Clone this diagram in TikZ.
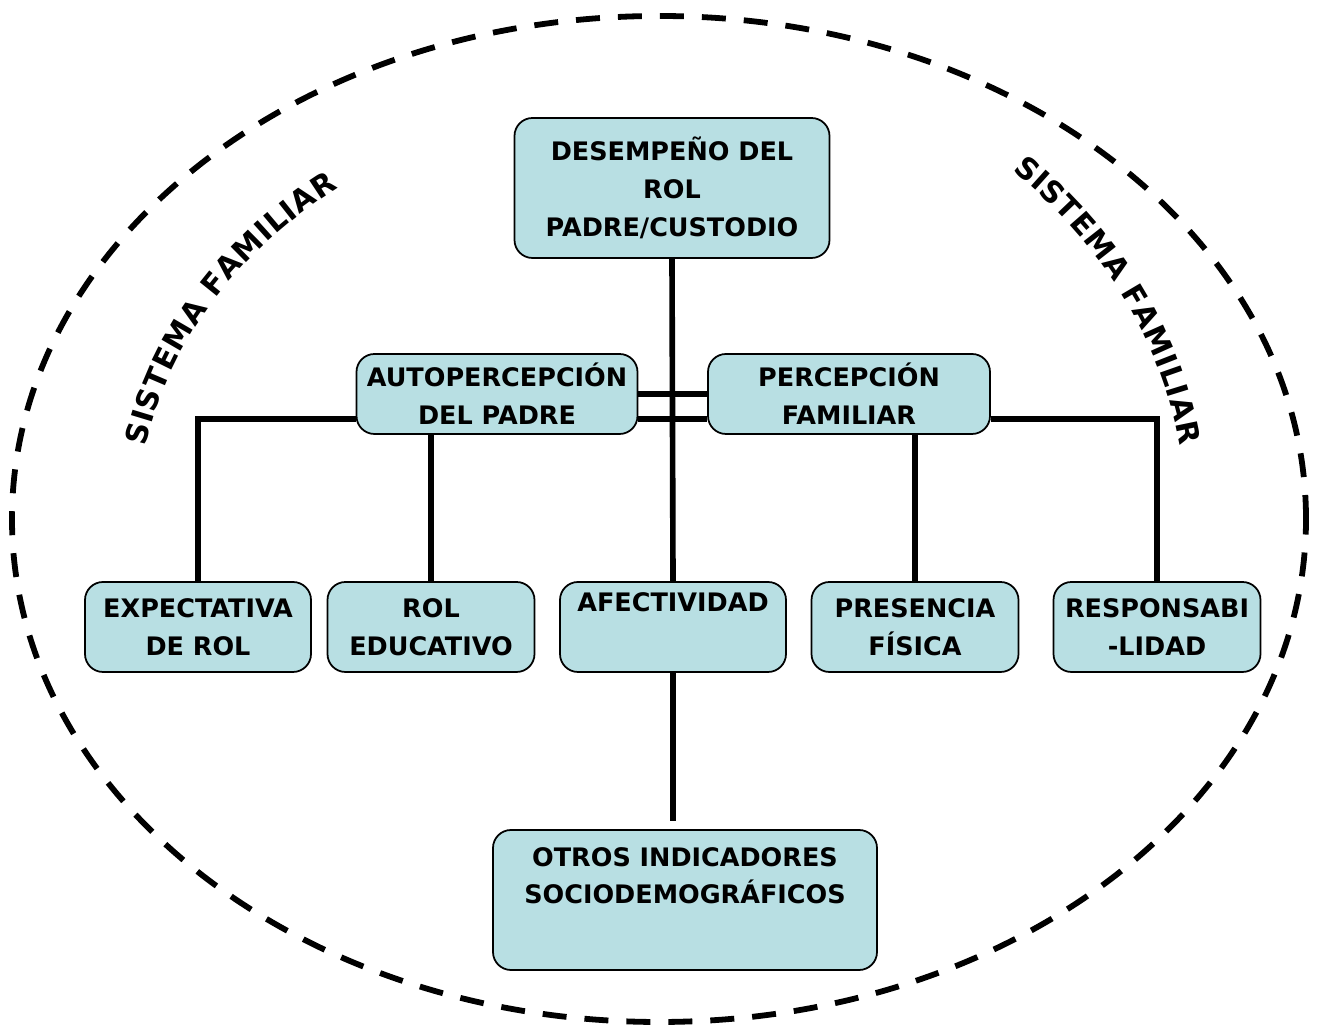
\documentclass[tikz,border=0pt]{standalone}
\usepackage{fontspec}
\setmainfont{DejaVu Sans}
\usepackage{tikz}
\usetikzlibrary{decorations.text}

\definecolor{boxblue}{RGB}{184,223,227}

\tikzset{
  box/.style={draw, line width=1pt, fill=boxblue, rounded corners=0.36cm,
    align=center, inner sep=0pt, font=\bfseries\fontsize{14.5}{21.5}\selectfont},
  link/.style={line width=3.2pt},
  frame/.style={line width=3.3pt, dash pattern=on 0.48cm off 0.36cm},
  arclabel/.style={decorate, decoration={text along path, text align=fit to path,
    text={|\bfseries\fontsize{17}{20}\selectfont|#1}}}
}

\begin{document}
\begin{tikzpicture}

    \useasboundingbox (0,0) rectangle (26.38,20.5);

    \coordinate (mid) at (13.18,10.12);

    \draw[frame] (mid) ellipse [x radius=12.94cm, y radius=10.06cm];


    \node[box, minimum width=6.3cm, minimum height=2.8cm] (rolpadre) at (13.44,16.74) {DESEMPEÑO DEL\\ROL\\PADRE/CUSTODIO};

    \node[box, minimum width=5.62cm, minimum height=1.6cm] (autop) at (9.94,12.62) {AUTOPERCEPCIÓN\\DEL PADRE};

    \node[box, minimum width=5.64cm, minimum height=1.6cm] (percep) at (16.98,12.62) {PERCEPCIÓN\\FAMILIAR};


    \node[box, minimum width=4.52cm, minimum height=1.8cm] (expect) at (3.96,7.96) {EXPECTATIVA\\DE ROL};

    \node[box, minimum width=4.14cm, minimum height=1.8cm] (roledu) at (8.62,7.96) {ROL\\EDUCATIVO};

    \node[box, minimum width=4.52cm, minimum height=1.8cm] (afect) at (13.46,7.96) {AFECTIVIDAD\\\strut};

    \node[box, minimum width=4.14cm, minimum height=1.8cm] (presen) at (18.30,7.96) {PRESENCIA\\FÍSICA};

    \node[box, minimum width=4.14cm, minimum height=1.8cm] (respon) at (23.14,7.96) {RESPONSABI\\-LIDAD};


    \node[box, minimum width=7.68cm, minimum height=2.8cm] (otros) at (13.70,2.50) {OTROS INDICADORES\\SOCIODEMOGRÁFICOS\\\strut};


    \draw[link] (rolpadre.south) -- (afect.north);

    \draw[link] (autop.east) -- (percep.west);

    \draw[link] ([yshift=-0.5cm]autop.east) -- ([yshift=-0.5cm]percep.west);

    \draw[link] ([yshift=-0.5cm]autop.west) -| (expect.north);

    \draw[link] (autop.south -| roledu.north) -- (roledu.north);

    \draw[link] (percep.south -| presen.north) -- (presen.north);

    \draw[link] ([yshift=-0.5cm]percep.east) -| (respon.north);

    \draw[link] (afect.south) -- ([yshift=0.16cm]otros.north -| afect.south);


    \path[arclabel={SISTEMA FAMILIAR}] ([shift={(170:10.42cm and 8.40cm)}]mid)
      arc [start angle=170, end angle=128, x radius=10.42cm, y radius=8.40cm];

    \path[arclabel={SISTEMA FAMILIAR}] ([shift={(48:10.55cm and 9.38cm)}]mid)
      arc [start angle=48, end angle=9, x radius=10.55cm, y radius=9.38cm];

  \end{tikzpicture}
\end{document}
